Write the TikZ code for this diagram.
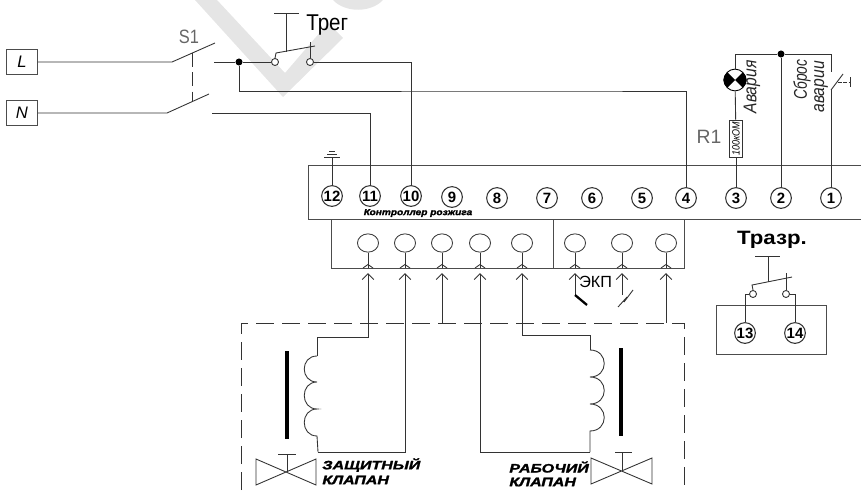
\documentclass[tikz,border=0pt]{standalone}
\usepackage{fontspec}
\setmainfont{Liberation Sans}
\newfontfamily\heavyfont{Liberation Sans}[BoldItalicFeatures={FakeBold=1.5}]
\usepackage{tikz}
\usetikzlibrary{positioning}
\usetikzlibrary{shapes.geometric}
\usetikzlibrary{arrows.meta}
\newcommand{\fsz}[1]{\fontsize{#1}{#1}\selectfont}
\tikzset{
    wire/.style={line width=.5pt,black!80},
    box/.style={draw=black!70,line width=.55pt},
    term/.style={circle,draw=black!80,fill=white,line width=.6pt,inner sep=0pt,minimum size=11.8pt,font=\fsz{8.5}\bfseries},
    sock/.style={ellipse,draw=black!75,fill=white,line width=.5pt,inner sep=0pt,minimum width=12pt,minimum height=10.4pt},
    contact/.style={circle,draw=black!80,fill=white,line width=.5pt,inner sep=0pt,minimum size=4pt},
    dot/.style={circle,fill=black,inner sep=0pt,minimum size=4pt},
    pin/.style={wire,-{Straight Barb[length=3.4pt,width=6.6pt]}},
    thick bar/.style={line width=2.2pt,black},
    watermark/.style={fill=black!10,draw=none},
    vert/.style={rotate=90,inner sep=0pt,font=\fsz{10.5}\itshape,black!85},
    valvelabel/.style={inner sep=0pt,anchor=west,font=\fsz{7}\heavyfont\bfseries\itshape}
}
\begin{document}
\begin{tikzpicture}[x=0.02cm,y=-0.02cm]
        \useasboundingbox (0,0) rectangle (861,490);

        % watermark
        \fill[watermark] (195,0) -- (283,97) -- (343,38) -- (328,23) -- (285,73) -- (217,0) -- cycle;
        \fill[watermark] (333,0) .. controls (345,13) and (371,13) .. (383,0) -- cycle;

        % controller
        \draw[box] (861,165) -- (308,165) -- (308,219) -- (861,219);
        \draw[box] (331,219) -- (331,268) -- (684,268) -- (684,219);
        \draw[box] (553,219) -- (553,268);
        \node[inner sep=0pt,font=\fsz{5}\heavyfont\bfseries\itshape] (title) at (418,213) {\scalebox{1.15}[1]{Контроллер розжига}};

        \foreach \n/\x/\y in {12/332/196,11/370/196,10/411/196,9/452/197,8/497/198,7/547/198,6/592/198,5/642/198,4/686/198,3/736/198,2/781/198,1/831/198}
            \node[term] (t\n) at (\x,\y) {\n};

        % sockets and pins
        \foreach \n/\x in {1/368,2/405,3/442,4/480,5/522,6/575,7/622,8/666} {
            \node[sock] (s\n) at (\x,243) {};
            \draw[wire] (s\n.south) -- (\x,268);
            \draw[wire] (\x-5,268) -- (\x,264.5) -- (\x+5,268);
            \coordinate (a\n) at (\x,273);
        }

        % mains side
        \node[box,draw,minimum width=17.6pt,minimum height=14.4pt,inner sep=0pt,font=\fsz{9.5}\itshape] (L) at (22,62) {L};
        \node[box,draw,minimum width=17.6pt,minimum height=14.4pt,inner sep=0pt,font=\fsz{9.5}\itshape] (N) at (22,113) {N};
        \coordinate (la) at (172,62);
        \coordinate (lb) at (215,43);
        \coordinate (na) at (167,113);
        \coordinate (nb) at (209,94);
        \draw[wire] (L) -- (la) -- (lb);
        \draw[wire] (N) -- (na) -- (nb);
        \draw[wire,dash pattern=on 8pt off 3pt] (192,53) -- (192,101);
        \node[inner sep=0pt,font=\fsz{11},black!60] (sone) at (189,37) {\scalebox{.85}[1]{S1}};

        \node[dot] (jl) at (239,62) {};
        \node[contact] (ca) at (275,62) {};
        \node[contact] (cb) at (310,62) {};
        \draw[wire] (214,62) -- (jl) -- (ca);
        \draw[wire] (cb) -| (t10);
        \draw[wire] (jl) |- (560,91) -| (t4);
        \draw[wire] (212,113) -| (t11);

        % thermostat
        \coordinate (ta) at (286,52);
        \draw[wire] (274,13) -- (299,13);
        \draw[wire] (286,13) -- (ta);
        \draw[wire] (ca.north) -- (276,53) -- (315,46);
        \draw[wire] (310,42) -- (cb.north);
        \node[inner sep=0pt,anchor=west,font=\fsz{13}] (treg) at (306,25) {\scalebox{.9}[1]{Трег}};

        % earth
        \draw[wire] (t12) -- (332,157);
        \draw[wire] (324,157) -- (340,157);
        \draw[wire] (327,154) -- (337,154);
        \draw[wire] (329,151) -- (335,151);

        % alarm
        \node[dot] (jt) at (781,54) {};
        \node[circle,draw=black,fill=white,line width=.5pt,inner sep=0pt,minimum size=12.4pt] (lamp) at (735,80) {};
        \fill (735,80) -- (727.2,72.2) .. controls (722,77) and (722,83) .. (727.2,87.8) -- cycle;
        \fill (735,80) -- (742.8,72.2) .. controls (748,77) and (748,83) .. (742.8,87.8) -- cycle;
        \node[draw=black!80,fill=white,line width=.5pt,minimum width=7.4pt,minimum height=21pt,inner sep=0pt] (rone) at (736,138.5) {};
        \node[rotate=90,inner sep=0pt,font=\fsz{6}\itshape] (ronev) at (736,138.5) {\scalebox{.85}[1]{100кОМ}};
        \coordinate (sa) at (831,72);
        \coordinate (sb) at (831,90);
        \draw[wire] (lamp) -- (735,54) -- (jt) -- (831,54) -- (sa);
        \draw[wire] (jt) -- (t2);
        \draw[wire] (lamp) -- (rone);
        \draw[wire] (rone) -- (t3);
        \draw[wire] (sb) -- (t1);
        \draw[wire] (sb) -- (843,74);
        \draw[wire,dash pattern=on 2pt off 1pt] (838,82) -- (850,82);
        \draw[wire] (850,77) -- (850,87);
        \node[vert] (avar) at (752,87) {\scalebox{.85}[1]{Авария}};
        \node[vert,anchor=west] (sbros) at (802,100) {\scalebox{.75}[1]{Сброс}};
        \node[vert,anchor=west] (avarii) at (821,113) {\scalebox{.85}[1]{аварии}};
        \node[inner sep=0pt,font=\fsz{11},black!60] (rlab) at (709,137) {R1};

        % protective valve
        \draw[pin] (317,356) -- (317,337) -| (a1);
        \draw[wire] (317,356) .. controls (300,356) and (300,382) .. (317,382)
            .. controls (300,382) and (300,409) .. (317,409)
            .. controls (300,409) and (300,436) .. (317,436) -- (318,452);
        \draw[pin] (318,452) -| (a2);
        \draw[thick bar] (287,351) -- (287,439);
        \draw[wire] (278,454) -- (296,454);
        \draw[wire] (287,454) -- (287,472);
        \draw[wire] (256,459) -- (316,485) -- (316,459) -- (256,485) -- cycle;
        \node[valvelabel] (zash) at (322,465) {\scalebox{1.3}[1]{ЗАЩИТНЫЙ}};
        \node[valvelabel] (zashk) at (322,480) {\scalebox{1.3}[1]{КЛАПАН}};

        % dashed enclosure
        \draw[wire,dash pattern=on 10pt off 4.8pt] (241,490) -- (241,323) -- (684,323) -- (684,490);
        \draw[pin] (442,323) -- (a3);
        \draw[pin] (666,323) -- (a8);

        % working valve
        \draw[pin] (590,452) -| (a4);
        \draw[pin] (590,350) -- (590,335) -| (a5);
        \draw[wire] (590,350) .. controls (609,350) and (609,377) .. (590,377)
            .. controls (609,377) and (609,404) .. (590,404)
            .. controls (609,404) and (609,431) .. (590,431) -- (590,452);
        \draw[thick bar] (621,348) -- (621,436);
        \draw[wire] (615,452) -- (632,452);
        \draw[wire] (622,452) -- (622,470);
        \draw[wire] (591,458) -- (652,484) -- (652,458) -- (591,484) -- cycle;
        \node[valvelabel] (rab) at (509,467) {\scalebox{1.3}[1]{РАБОЧИЙ}};
        \node[valvelabel] (rabk) at (509,482) {\scalebox{1.3}[1]{КЛАПАН}};

        % flame sensor inputs
        \coordinate (ekp) at (575,295);
        \draw[pin] (ekp) -- (a6);
        \draw[line width=1.3pt,black] (ekp) -- (587,305);
        \node[inner sep=0pt,anchor=west,font=\fsz{9.2}] (ekplab) at (579,282) {ЭКП};
        \coordinate (ion) at (622,295);
        \draw[pin] (ion) -- (a7);
        \draw[wire] (618,307) -- (627,297) -- (624,302) -- (633,290);

        % second thermostat
        \node[box,draw,minimum width=63pt,minimum height=28.4pt,inner sep=0pt] (tbox) at (771.5,330) {};
        \node[term] (t13) at (745,333) {13};
        \node[term] (t14) at (795,333) {14};
        \node[contact] (cc) at (753,294) {};
        \node[contact] (cd) at (786,294) {};
        \draw[wire] (cc) -| (t13);
        \draw[wire] (cd) -| (t14);
        \draw[wire] (755,256) -- (780,256);
        \draw[wire] (768,256) -- (768,282);
        \draw[wire] (cc.north) -- (752,285) -- (792,277);
        \draw[wire] (786,273) -- (cd.north);
        \node[inner sep=0pt,font=\fsz{11}\bfseries] (trazr) at (772,240) {\scalebox{1.15}[1]{Тразр.}};
\end{tikzpicture}
\end{document}
